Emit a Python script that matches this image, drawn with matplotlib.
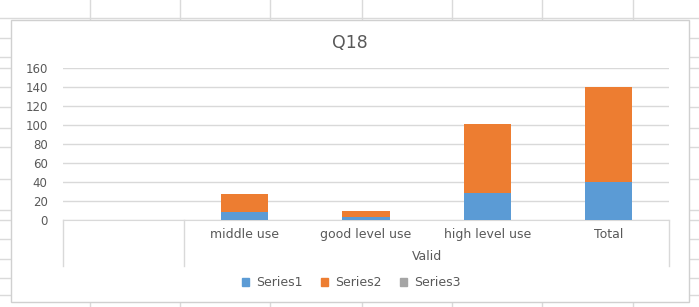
import matplotlib
matplotlib.use("Agg")
import matplotlib.pyplot as plt
from matplotlib.patches import Rectangle, Patch
from matplotlib.lines import Line2D
import matplotlib.transforms as mtransforms

categories = ["", "middle use", "good level use", "high level use", "Total"]
group_label = "Valid"
series1 = [0, 8, 3, 28, 40]
series2 = [0, 19, 7, 73, 100]
series3 = [0, 0, 0, 0, 0]
yticks = [0, 20, 40, 60, 80, 100, 120, 140, 160]

W, H = 699, 307
text_grey = "#595959"
line_grey = "#d9d9d9"

fig = plt.figure(figsize=(W / 100, H / 100), dpi=100)
fig.patch.set_facecolor("white")


def fx(x):
    return x / W


def fy(y):
    return 1 - y / H


# spreadsheet cells behind the chart
for x in [90, 180, 270, 362, 452, 542, 633]:
    fig.add_artist(Line2D([fx(x), fx(x)], [0, 1], color="#dadada", lw=1, zorder=-3))
for y in [18, 38, 57, 68, 87, 107, 128, 147, 179, 210, 220, 239, 259, 278, 295]:
    fig.add_artist(Line2D([0, 1], [fy(y), fy(y)], color="#dadada", lw=1, zorder=-3))

# chart area
fig.add_artist(Rectangle((fx(11), fy(302)), fx(689) - fx(11), fy(20) - fy(302),
                         transform=fig.transFigure, facecolor="white",
                         edgecolor="#d0d0d0", lw=1, zorder=-2))

ax = fig.add_axes([fx(63), fy(220), fx(669) - fx(63), fy(68) - fy(220)])
ax.set_facecolor("none")

pos = list(range(len(categories)))
width = 0.39
ax.bar(pos, series1, width, color="#5b9bd5", label="Series1", zorder=3)
ax.bar(pos, series2, width, bottom=series1, color="#ed7d31", label="Series2", zorder=3)
bottom3 = [a + b for a, b in zip(series1, series2)]
ax.bar(pos, series3, width, bottom=bottom3, color="#a5a5a5", label="Series3", zorder=3)

ax.set_xlim(-0.5, len(categories) - 0.5)
ax.set_ylim(0, 160)
ax.set_yticks(yticks)
ax.yaxis.grid(True, color=line_grey, lw=1)
ax.set_axisbelow(True)
for s in ["top", "right", "left"]:
    ax.spines[s].set_visible(False)
ax.spines["bottom"].set_color(line_grey)
ax.tick_params(axis="y", length=0, pad=11, labelcolor=text_grey, labelsize=8.5)
ax.tick_params(axis="x", length=0, pad=6, labelcolor=text_grey, labelsize=9)
ax.set_xticks(pos)
ax.set_xticklabels(categories)

# multi-level category dividers
trans = mtransforms.blended_transform_factory(ax.transData, ax.transAxes)
for xv in [-0.5, 0.5, len(categories) - 0.5]:
    ax.plot([xv, xv], [0, -0.30], transform=trans, color=line_grey, lw=1, clip_on=False)
ax.text(2.5, -0.243, group_label, transform=trans, ha="center", va="center",
        color=text_grey, fontsize=9)

fig.text(fx(350), fy(43), "Q18", ha="center", va="center", color=text_grey, fontsize=12.5)

handles = [Patch(color="#5b9bd5", label="Series1"),
           Patch(color="#ed7d31", label="Series2"),
           Patch(color="#a5a5a5", label="Series3")]
leg = fig.legend(handles=handles, loc="center", bbox_to_anchor=(fx(351), fy(283)), ncol=3,
                 frameon=False, handlelength=0.6, handleheight=0.6, handletextpad=0.5,
                 columnspacing=1.5, fontsize=9)
for t in leg.get_texts():
    t.set_color(text_grey)

fig.savefig("out.png", dpi=100)
